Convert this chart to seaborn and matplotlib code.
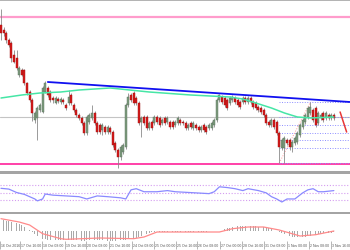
import numpy as np
import pandas as pd
import matplotlib
matplotlib.use("Agg")
import matplotlib.pyplot as plt
import matplotlib.transforms as mtransforms
from matplotlib.patches import Rectangle
import seaborn as sns

# ---------------- data (prices in pips above base) ----------------
base = 1.0900
pip = 0.0001

open_pips = [147,142,139,132,129,117,114,97,102,102,
             89,80,72,52,54,62,60,80,84,80,
             74,69,73,70,72,67,69,77,67,62,
             57,54,49,39,50,54,59,49,47,42,
             45,40,44,40,29,22,15,20,25,67,
             77,79,74,69,50,55,55,44,50,49,
             55,54,49,54,50,50,50,47,49,52,
             50,49,44,49,44,47,45,42,47,45,
             44,44,47,52,72,75,74,72,69,72,
             74,72,70,70,74,70,74,70,69,65,
             64,62,57,50,47,52,50,39,24,24,
             32,32,25,29,30,37,45,50,55,59,
             62,64,49,54,59,54,57,54,57]
close_pips = [139,139,132,127,114,110,104,104,97,89,
              79,72,59,59,64,67,84,89,77,72,
              72,74,71,73,70,64,75,69,62,57,
              54,49,39,55,57,59,49,40,40,47,
              40,45,40,27,22,15,25,27,67,75,
              72,69,69,49,54,49,44,49,44,55,
              50,47,52,49,54,45,45,50,54,49,
              49,44,47,45,49,44,42,45,42,40,
              47,49,52,72,77,70,67,64,74,75,
              70,67,65,74,70,74,70,65,64,62,
              60,57,49,47,52,45,39,25,32,34,
              29,25,30,34,39,47,52,57,64,65,
              52,47,59,57,52,59,54,57,54]
high_pips = [163,145,141,134,131,122,122,106,104,103,
             90,82,74,61,66,69,86,91,86,82,
             76,76,75,75,74,69,82,79,69,64,
             59,56,51,57,59,67,61,51,49,49,
             47,47,46,42,31,24,27,29,69,79,
             79,81,76,71,56,57,57,51,52,57,
             57,56,54,56,56,52,52,52,56,54,
             52,51,49,51,51,49,47,47,49,47,
             49,51,54,74,78,77,76,74,76,77,
             76,74,72,76,76,76,76,72,71,67,
             66,64,59,52,54,54,52,41,34,36,
             34,34,32,36,41,49,54,59,66,70,
             64,66,61,59,61,61,59,59,59]
low_pips = [132,136,129,125,110,109,102,95,96,87,
            77,70,51,49,32,60,59,79,75,70,
            69,68,69,68,68,62,67,67,60,55,
            52,47,37,37,48,52,47,38,38,37,
            38,38,38,25,20,4,12,18,23,65,
            70,67,67,47,35,47,42,42,42,47,
            48,45,47,47,48,43,43,45,47,47,
            47,42,42,43,42,42,40,40,40,38,
            42,42,45,50,70,68,65,62,67,70,
            68,65,63,68,68,68,68,63,62,60,
            58,55,47,45,45,43,37,9,22,9,
            27,22,20,27,28,35,43,48,53,57,
            50,45,47,52,50,52,52,52,52]

# moving average (read at sample bars)
ma_idx = [0, 8, 15, 23, 30, 42, 57, 73, 88, 93, 98, 104, 109, 114, 119, 128]
ma_pips = [74, 77, 79, 80, 82, 84, 80, 77, 75, 73, 69, 64, 59, 55, 54, 55]

# descending trend line
trend_idx = [18, 134.2]
trend_pips = [90, 70]

# horizontal levels
resistance_pips = 155
support_pips = 8
pivot_pips = 55

# fibonacci retracement (swing low -> swing high) and its levels
fib_idx = [107, 119]
fib_pips = [9, 70]
fib_levels = [70, 55, 47, 39, 32, 24, 9]

# projected move
proj_idx = [130.4, 132.9]
proj_pips = [60, 40]

# RSI
rsi_idx = [0,3,6,9,13,14,16,17,20,25,30,33,37,41,46,48,50,52,55,60,64,67,75,80,82,
           84,87,90,93,95,99,102,104,106,108,110,113,116,118,120,122,124,128]
rsi_val = [61,59,50,45,33,28,33,46,43,41,39,33,41,39,36,33,57,60,52,52,55,52,49,47,52,
           65,63,60,55,60,55,49,39,33,25,33,33,49,57,60,52,52,55]
rsi_levels = [70, 50, 30]

# MACD (units of 0.0001)
macd_hist = [11,11,10.5,10,9.5,9,8,7,
             6,4.5,3,1.5,
             -1,-3,-5,-6.5,
             -7.5,-8,-8.5,-8.5,-9,-9,-9,-9,-9,-8.5,
             -8.5,-8.5,-9,-9,-9,-9.5,-9.5,-9,-9,-9,
             -9,-9,-9,-9,-9,-9.5,-9.5,-9.5,-9.5,-9,
             -9,-9,-8.5,
             -8,-8,-7.5,-7,
             -6,-5,-4,-3,-2,-1,
             -0.6,-0.5,-0.4,-0.4,-0.3,-0.3,-0.2,-0.2,-0.3,-0.3,
             -0.4,-0.4,-0.3,-0.2,-0.2,-0.3,-0.3,-0.4,-0.4,-0.3,
             -0.3,-0.2,-0.1,0.2,0.3,0.6,
             1,2,3,3.5,4,4.5,5,5,5.5,5.5,
             5.5,5,5,5,4.5,4.5,4,3.5,3,2.5,
             1.5,0.5,
             -1,-2,-3,-4,-5,-5.5,-6,-6,-6,-6,
             -5.5,-5,-4.5,-4,-3.5,-3,-2.5,-2,-2,-1.5,
             -1.5,-1]
sig_idx = [0, 7, 11, 16, 23, 25, 38, 51, 55, 60, 84, 89, 95, 101, 107, 115, 121, 128]
sig_val = [12.6, 9.3, 6.3, -2.4, -7.4, -8, -6.7, -7.4, -5.7, -0.7, -0.7, 2.6, 4.3, 4.3,
           1.3, -4.7, -3.4, 0.3]

# time axis labels
tick_labels = ["16 Oct 2016", "17 Oct 16:00", "18 Oct 08:00", "19 Oct 16:00",
               "20 Oct 08:00", "21 Oct 16:00", "24 Oct 08:00", "25 Oct 00:00",
               "25 Oct 16:00", "26 Oct 08:00", "27 Oct 00:00", "28 Oct 16:00",
               "31 Oct 08:00", "1 Nov 00:00", "2 Nov 08:00", "3 Nov 16:00"]
tick_pos = [-0.3, 7.3, 15.8, 24.6, 32.7, 41.5, 50.4, 58.8, 67.3, 75.4, 84.2,
            92.7, 101.2, 110.0, 118.5, 126.9]

# ---------------- build tables ----------------
def px(v):
    return base + np.asarray(v, dtype=float) * pip

df = pd.DataFrame({"open": px(open_pips), "close": px(close_pips),
                   "high": px(high_pips), "low": px(low_pips)})
df["idx"] = np.arange(len(df))
df["bull"] = df["close"] >= df["open"]

sns.set_style("white")
plt.rcParams['font.family'] = ['Liberation Sans Narrow', 'Liberation Sans', 'DejaVu Sans']

W, H = 350, 250
fig = plt.figure(figsize=(3.5, 2.5), dpi=100)
fig.patch.set_facecolor("white")


def rect(top, bottom):
    return [0, 1 - bottom / H, 1, (bottom - top) / H]


ax1 = fig.add_axes(rect(0, 171))
ax2 = fig.add_axes(rect(173.5, 211.5))
ax3 = fig.add_axes(rect(214, 241))
xlim = (-0.385, 134.2)
for ax in (ax1, ax2, ax3):
    ax.set_xlim(*xlim)
    for s in ax.spines.values():
        s.set_visible(False)
    ax.set_facecolor("white")
    ax.set_yticks([])
ax1.set_xticks([])
ax2.set_xticks([])

# separators
fig.add_artist(Rectangle((0, 1 - 1.3 / H), 1, 1.3 / H, transform=fig.transFigure,
                         color="#b4b4b4", lw=0))
fig.add_artist(Rectangle((0, 1 - 173.5 / H), 1, 2.4 / H, transform=fig.transFigure,
                         color="#a4a4a4", lw=0))
fig.add_artist(Rectangle((0, 1 - 213.8 / H), 1, 2.1 / H, transform=fig.transFigure,
                         color="#a4a4a4", lw=0))

# ---------------- main price panel ----------------
ax1.set_ylim(px(1), px(172))
ax1.axhline(px(resistance_pips), color="#ff9ccc", lw=1.6, zorder=1)
ax1.axhline(px(support_pips), color="#ff40a8", lw=1.4, zorder=1)
ax1.axhline(px(pivot_pips), color="#c4c4c4", lw=0.8, zorder=1)
ax1.hlines(px(fib_levels), fib_idx[0], xlim[1], colors="#8e8eff", lw=0.7,
           linestyles=(0, (1, 1.6)), zorder=2)
ax1.plot(fib_idx, px(fib_pips), color="#ff9a9a", lw=0.7, ls=(0, (1, 1.6)), zorder=2)

ax1.vlines(df["idx"], df["low"], df["high"], colors="#8a8a8a", lw=0.6, zorder=3)
body_bottom = df[["open", "close"]].min(axis=1)
body_h = (df["close"] - df["open"]).abs().clip(lower=0.8 * pip)
bull = df["bull"]
ax1.bar(df["idx"][bull], body_h[bull], bottom=body_bottom[bull], width=0.78,
        color="#7e9b7e", edgecolor="#56705a", lw=0.3, zorder=4)
ax1.bar(df["idx"][~bull], body_h[~bull], bottom=body_bottom[~bull], width=0.78,
        color="#d61c1c", edgecolor="#9c0d0d", lw=0.3, zorder=4)

sns.lineplot(x=ma_idx, y=px(ma_pips), ax=ax1, color="#46e6a6", lw=1.1, zorder=5)
sns.lineplot(x=trend_idx, y=px(trend_pips), ax=ax1, color="#1010f0", lw=1.3, zorder=6)
ax1.plot(proj_idx, px(proj_pips), color="#e83838", lw=1.1, zorder=6)
ax1.set_xlabel("")
ax1.set_ylabel("")

# ---------------- RSI panel ----------------
ax2.set_ylim(0, 100)
ax2.hlines(rsi_levels, xlim[0], xlim[1], colors="#d49cf0", lw=0.8,
           linestyles=(0, (1, 1.6)))
sns.lineplot(x=rsi_idx, y=rsi_val, ax=ax2, color="#8a8aff", lw=0.9)
ax2.set_xlabel("")
ax2.set_ylabel("")
ax2.set_xticks([])

# ---------------- MACD panel ----------------
ax3.set_ylim(-9.7 * pip, 17.3 * pip)
ax3.bar(df["idx"], np.asarray(macd_hist) * pip, width=0.3, color="#a9a9a9", lw=0)
sns.lineplot(x=sig_idx, y=np.asarray(sig_val) * pip, ax=ax3, color="#ff8a8a", lw=0.9)
ax3.set_xlabel("")
ax3.set_ylabel("")
ax3.set_yticks([])
ax3.set_xticks(tick_pos)
ax3.set_xticklabels(tick_labels, fontsize=2.5, color="#555555", ha="left")
ax3.tick_params(axis="x", direction="out", length=6, width=0.5, color="#9a9a9a",
                pad=-4.0, bottom=True)
for k, lbl in enumerate(ax3.get_xticklabels()):
    dx = 1.2 if k > 0 else 0.6
    off = mtransforms.ScaledTranslation(dx / 100, 0, fig.dpi_scale_trans)
    lbl.set_transform(lbl.get_transform() + off)

fig.savefig("out.png", dpi=100, facecolor="white")
